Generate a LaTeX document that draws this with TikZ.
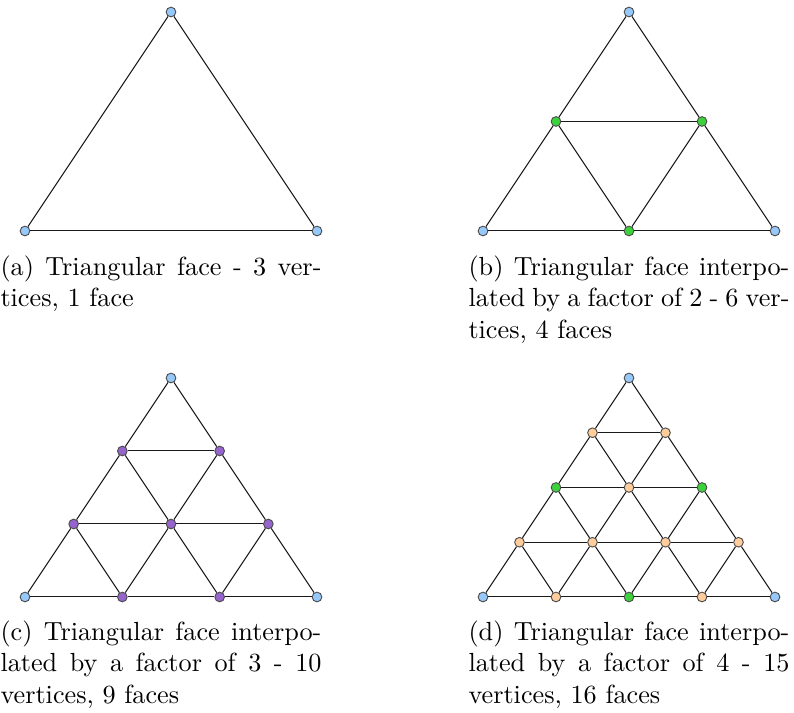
\documentclass[tikz,border=0pt]{standalone}
\usetikzlibrary{calc}

\definecolor{vblue}{RGB}{150,200,250}
\definecolor{vgreen}{RGB}{60,210,60}
\definecolor{vpurple}{RGB}{150,100,205}
\definecolor{vorange}{RGB}{255,205,155}

\begin{document}
\begin{tikzpicture}[
  x=0.3817pt,
  y=-0.3817pt,
  edge/.style={draw=black!90,line width=0.38pt},
  vertex/.style={circle,draw=black!70,line width=0.35pt,inner sep=0pt,minimum size=3.7pt},
  caption/.style={anchor=north west,inner sep=0pt,text width=122.5pt,align=justify,
                  font=\normalsize}
]
\useasboundingbox (0,0) rectangle (794,713);

% =====================================================================
% Four panels: one triangle subdivided by a factor n
% =====================================================================
\foreach \pn/\n/\ax/\ay/\col in {a/1/171/12/vblue, b/2/629/12/vgreen,
                                 c/3/171/378/vpurple, d/4/629/378/vorange}{
  % --- vertices (row i from the apex, j along the row) ---
  \foreach \i in {0,...,\n}{
    \foreach \j in {0,...,\i}{
      \pgfmathtruncatemacro\iscorner{(\i==0)||((\i==\n)&&((\j==0)||(\j==\n)))}
      \pgfmathtruncatemacro\ismid{(\n==4)&&(mod(\i,2)==0)&&(mod(\j,2)==0)}
      \ifnum\iscorner=1 \def\vcol{vblue}\else
        \ifnum\ismid=1 \def\vcol{vgreen}\else\def\vcol{\col}\fi\fi
      \node[vertex,fill=\vcol] (\pn-\i-\j) at (\ax-146*\i/\n+292*\j/\n,\ay+219*\i/\n) {};
    }
  }
  % --- slanted edges ---
  \pgfmathtruncatemacro\nm{\n-1}
  \foreach \i in {0,...,\nm}{
    \foreach \j in {0,...,\i}{
      \pgfmathtruncatemacro\ii{\i+1}
      \pgfmathtruncatemacro\jj{\j+1}
      \draw[edge] (\pn-\i-\j) -- (\pn-\ii-\j);
      \draw[edge] (\pn-\i-\j) -- (\pn-\ii-\jj);
    }
  }
  % --- horizontal edges ---
  \foreach \i in {1,...,\n}{
    \pgfmathtruncatemacro\im{\i-1}
    \foreach \j in {0,...,\im}{
      \pgfmathtruncatemacro\jj{\j+1}
      \draw[edge] (\pn-\i-\j) -- (\pn-\i-\jj);
    }
  }
}

% =====================================================================
% Captions
% =====================================================================
\node[caption] (capa) at (0,255.4)
  {(a) Triangular face - 3 ver-\linebreak tices, 1 face};
\node[caption] (capb) at (468,255.4)
  {(b) Triangular face interpo-\linebreak lated by a factor of 2 - 6 ver-\linebreak tices, 4 faces};
\node[caption] (capc) at (0,620.4)
  {(c) Triangular face interpo-\linebreak lated by a factor of 3 - 10\linebreak vertices, 9 faces};
\node[caption] (capd) at (468,620.4)
  {(d) Triangular face interpo-\linebreak lated by a factor of 4 - 15\linebreak vertices, 16 faces};

\end{tikzpicture}
\end{document}
